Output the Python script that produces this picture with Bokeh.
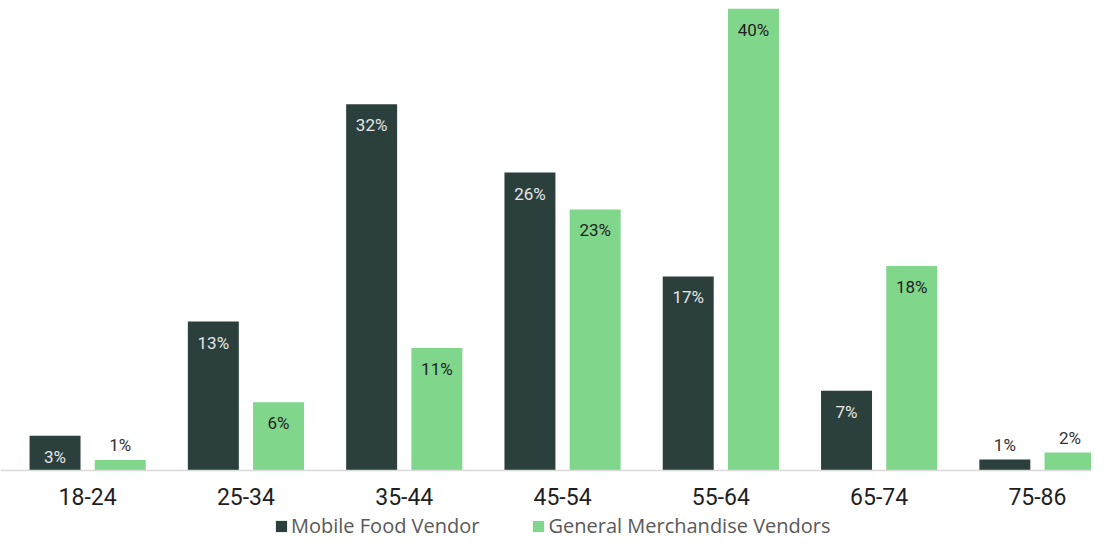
from bokeh.plotting import figure
from bokeh.models import ColumnDataSource, FixedTicker, Legend, LegendItem, Range1d
from bokeh.core.properties import value
from bokeh.embed import file_html
from bokeh.resources import INLINE

categories = ["18-24", "25-34", "35-44", "45-54", "55-64", "65-74", "75-86"]
mobile_food = [3.0, 12.9, 31.7, 25.8, 16.8, 6.9, 0.95]
general_merch = [0.9, 5.9, 10.6, 22.6, 40.0, 17.7, 1.55]
series_names = ["Mobile Food Vendor", "General Merchandise Vendors"]

DARK = "#2b403d"
LIGHT = "#80d68b"
FONT = "Roboto"

PX_PER_CAT = 158.3
PX_PER_PCT = 11.55
p = figure(frame_width=1091, frame_height=531, output_backend="svg", toolbar_location=None,
           x_range=Range1d(-8 / PX_PER_CAT, -8 / PX_PER_CAT + 1091 / PX_PER_CAT),
           y_range=Range1d(-69 / PX_PER_PCT, 40.0),
           min_border_left=0, min_border_right=0, min_border_top=8, min_border_bottom=0)
p.outline_line_color = None
p.xgrid.visible = False
p.ygrid.visible = False
p.yaxis.visible = False

xc = [i + 0.5 for i in range(len(categories))]
off = 0.206
bw = 0.322

def make_src(vals, dx, inside_color):
    xs = [x + dx for x in xc]
    labels = [f"{round(v)}%" for v in vals]
    inside = [v >= 2.5 for v in vals]
    return ColumnDataSource(dict(
        x=xs, top=vals, label=labels,
        yoff=[21 if ins else -15 for ins in inside],
        tcolor=[inside_color if ins else "#333333" for ins in inside],
    ))

s1 = make_src(mobile_food, -off, "#e6e6e6")
s2 = make_src(general_merch, off, "#1f1f1f")

r1 = p.vbar(x="x", top="top", width=bw, bottom=0, source=s1, fill_color=DARK, line_color=None)
r2 = p.vbar(x="x", top="top", width=bw, bottom=0, source=s2, fill_color=LIGHT, line_color=None)

for s in (s1, s2):
    p.text(x="x", y="top", text="label", source=s, y_offset="yoff",
           text_align="center", text_baseline="middle",
           text_font=value(FONT), text_font_size="17px", text_color="tcolor")

ax = p.xaxis[0]
ax.fixed_location = 0
ax.ticker = FixedTicker(ticks=xc)
ax.major_label_overrides = {x: c for x, c in zip(xc, categories)}
ax.major_tick_line_color = None
ax.minor_tick_line_color = None
ax.axis_line_color = "#d9d9d9"
ax.axis_line_width = 1.5
ax.major_label_text_font = FONT
ax.major_label_text_font_size = "23px"
ax.major_label_text_color = "#1f1f1f"
ax.major_label_standoff = 11

legend = Legend(items=[LegendItem(label=series_names[0], renderers=[r1]),
                       LegendItem(label=series_names[1], renderers=[r2])],
                orientation="horizontal", location=(274, 0),
                label_text_font="Open Sans", label_text_font_size="20px",
                label_text_color="#595959", glyph_width=14, glyph_height=14,
                label_standoff=3, spacing=52, padding=0, margin=0,
                border_line_color=None, background_fill_alpha=0)
p.add_layout(legend, "center")

open("out.html", "w").write(file_html(p, INLINE))
